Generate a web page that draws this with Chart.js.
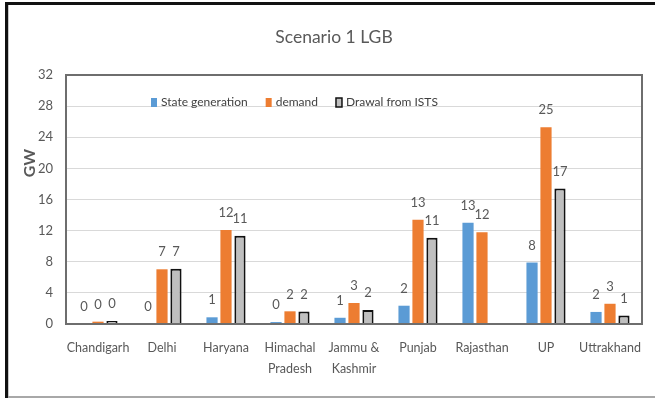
<!DOCTYPE html>
<html>
<head>
<meta charset="utf-8">
<script src="https://cdn.jsdelivr.net/npm/chart.js@4.4.0/dist/chart.umd.min.js"></script>
<style>
html,body{margin:0;padding:0;background:#fff;}
canvas{display:block;}
</style>
</head>
<body>
<canvas id="c" width="655" height="398"></canvas>
<script>
const categories = ["Chandigarh","Delhi","Haryana",["Himachal","Pradesh"],["Jammu &","Kashmir"],"Punjab","Rajasthan","UP","Uttrakhand"];
const stateGeneration = [0, 0, 0.86, 0.25, 0.8, 2.35, 13.0, 7.9, 1.55];
const demand = [0.3, 7.03, 12.08, 1.63, 2.7, 13.4, 11.8, 25.3, 2.6];
const drawalFromISTS = [0.4, 7.1, 11.35, 1.6, 1.8, 11.1, null, 17.4, 1.1];
const yTicks = [0, 4, 8, 12, 16, 20, 24, 28, 32];
const titleText = "Scenario 1 LGB";
const yAxisTitle = "GW";

const FONT = "Lato,'Open Sans',sans-serif";
const TXT = "#595959";

const framePlugin = {
  id: 'frame',
  beforeDraw(chart) {
    const ctx = chart.ctx;
    ctx.save();
    ctx.fillStyle = '#ffffff';
    ctx.fillRect(0, 0, chart.width, chart.height);
    ctx.fillStyle = '#111111';
    ctx.fillRect(5, 2, chart.width - 5, 3);
    ctx.fillRect(5, 2, 3, chart.height - 2);
    ctx.fillStyle = '#c8c8c8';
    ctx.fillRect(8, 5, 1, chart.height - 5);
    ctx.fillStyle = '#a8a8a8';
    ctx.fillRect(8, 396, chart.width - 8, 2);
    // title
    ctx.fillStyle = TXT;
    ctx.font = "17.5px " + FONT;
    ctx.textAlign = 'center';
    ctx.textBaseline = 'middle';
    ctx.fillText(titleText, 334, 37);
    // y axis title
    ctx.translate(30, 163);
    ctx.rotate(-Math.PI / 2);
    ctx.font = "bold 16px " + FONT;
    ctx.fillText(yAxisTitle, 0, 0);
    ctx.restore();
  },
  afterDraw(chart) {
    const ctx = chart.ctx;
    const a = chart.chartArea;
    ctx.save();
    ctx.strokeStyle = '#6e6e6e';
    ctx.lineWidth = 2;
    ctx.strokeRect(a.left, a.top, a.right - a.left, a.bottom - a.top);
    ctx.restore();
  }
};

const labelPlugin = {
  id: 'valueLabels',
  afterDatasetsDraw(chart) {
    const ctx = chart.ctx;
    ctx.save();
    ctx.font = "13px " + FONT;
    ctx.fillStyle = TXT;
    ctx.textAlign = 'center';
    ctx.textBaseline = 'middle';
    chart.data.datasets.forEach((ds, i) => {
      const meta = chart.getDatasetMeta(i);
      meta.data.forEach((el, j) => {
        const v = ds.data[j];
        if (v === null || v === undefined) return;
        ctx.fillText(String(Math.round(v)), el.x, el.y - 17);
      });
    });
    ctx.restore();
  }
};

const legendPlugin = {
  id: 'insideLegend',
  afterDraw(chart) {
    const ctx = chart.ctx;
    ctx.save();
    ctx.font = "12px " + FONT;
    ctx.textBaseline = 'middle';
    ctx.textAlign = 'left';
    let x = 151;
    const y = 102;
    chart.data.datasets.forEach((ds) => {
      ctx.fillStyle = ds.backgroundColor;
      ctx.fillRect(x, y - 4, 6, 9);
      if (ds.borderWidth) {
        ctx.strokeStyle = ds.borderColor;
        ctx.lineWidth = 1.5;
        ctx.strokeRect(x, y - 4, 6, 9);
      }
      x += 10;
      ctx.fillStyle = '#404040';
      ctx.fillText(ds.label, x, y);
      x += ctx.measureText(ds.label).width + 18;
    });
    ctx.restore();
  }
};

new Chart(document.getElementById('c'), {
  type: 'bar',
  data: {
    labels: categories,
    datasets: [
      { label: 'State generation', data: stateGeneration, backgroundColor: '#5B9BD5', borderWidth: 0 },
      { label: 'demand', data: demand, backgroundColor: '#ED7D31', borderWidth: 0 },
      { label: 'Drawal from ISTS', data: drawalFromISTS, backgroundColor: '#BFBFBF', borderColor: '#111111', borderWidth: 2 }
    ]
  },
  options: {
    responsive: false,
    animation: false,
    devicePixelRatio: 1,
    layout: { padding: { left: 0, right: 13, top: 75, bottom: 0 } },
    datasets: { bar: { categoryPercentage: 0.655, barPercentage: 0.8 } },
    plugins: { legend: { display: false }, title: { display: false }, tooltip: { enabled: false } },
    scales: {
      x: {
        grid: { display: false, drawTicks: false },
        border: { display: false },
        ticks: { color: TXT, font: { family: FONT, size: 12.5, lineHeight: 1.7 }, padding: 13, maxRotation: 0, autoSkip: false },
        afterFit(s) { s.height = 74; }
      },
      y: {
        min: 0, max: 32,
        afterBuildTicks(s) { s.ticks = yTicks.map(v => ({ value: v })); },
        grid: { color: '#d9d9d9', lineWidth: 1, drawTicks: false },
        border: { display: false },
        ticks: { color: TXT, font: { family: FONT, size: 13 }, padding: 13 },
        afterFit(s) { s.width = 66; }
      }
    }
  },
  plugins: [framePlugin, labelPlugin, legendPlugin]
});
</script>
</body>
</html>
